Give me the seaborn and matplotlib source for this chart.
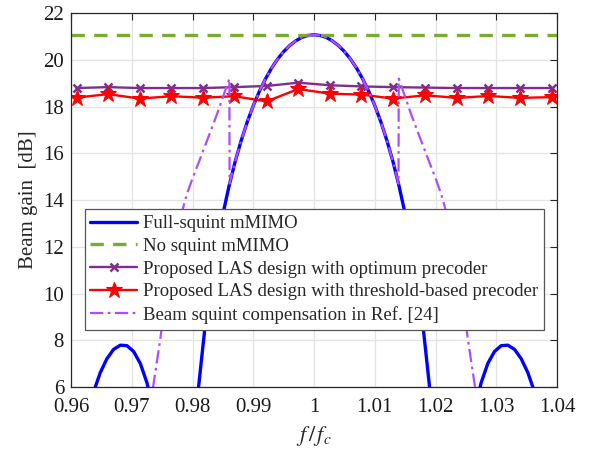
import numpy as np
import pandas as pd
import matplotlib
matplotlib.use("Agg")
import matplotlib.pyplot as plt
import seaborn as sns

# ---- data ----
# full-squint mMIMO (blue)
fs_x = [0.9626, 0.9637, 0.9648, 0.9659, 0.9670, 0.9681, 0.9692, 0.9703, 0.9714, 0.9725, 0.9736, 0.9758,
        0.980, 0.981, 0.982, 0.983, 0.984, 0.985, 0.986, 0.987, 0.988, 0.989, 0.990,
        0.991, 0.992, 0.993, 0.994, 0.995, 0.996, 0.997, 0.998, 0.999, 1.000,
        1.001, 1.002, 1.003, 1.004, 1.005, 1.006, 1.007, 1.008, 1.009, 1.010,
        1.011, 1.012, 1.013, 1.014, 1.015, 1.016, 1.017, 1.018, 1.019, 1.020,
        1.0242, 1.0264, 1.0275, 1.0286, 1.0297, 1.0308, 1.0319, 1.0330, 1.0341, 1.0352, 1.0363, 1.0374]
fs_y = [4.68, 5.78, 6.61, 7.21, 7.61, 7.79, 7.77, 7.52, 7.01, 6.18, 4.93, 0.10,
        2.83, 6.03, 8.45, 10.40, 12.02, 13.40, 14.59, 15.63, 16.54, 17.34, 18.04,
        18.65, 19.18, 19.64, 20.03, 20.35, 20.61, 20.81, 20.96, 21.04, 21.07,
        21.04, 20.96, 20.81, 20.61, 20.35, 20.03, 19.64, 19.18, 18.65, 18.04,
        17.34, 16.54, 15.63, 14.59, 13.40, 12.02, 10.40, 8.45, 6.03, 2.83,
        0.10, 4.93, 6.18, 7.01, 7.52, 7.77, 7.79, 7.61, 7.21, 6.61, 5.78, 4.68]

# no squint mMIMO (green dashed)
ns_x = [0.96, 1.04]
ns_y = [21.07, 21.07]

# proposed LAS designs (markers)
las_x = [0.9609, 0.9661, 0.9713, 0.9765, 0.9817, 0.9869, 0.9922, 0.9974,
         1.0026, 1.0078, 1.0130, 1.0183, 1.0235, 1.0287, 1.0339, 1.0391]
opt_y = [18.79, 18.83, 18.79, 18.79, 18.79, 18.83, 18.88, 19.02,
         18.91, 18.86, 18.83, 18.81, 18.79, 18.79, 18.79, 18.79]
thr_y = [18.38, 18.53, 18.34, 18.44, 18.38, 18.44, 18.22, 18.75,
         18.55, 18.51, 18.34, 18.48, 18.37, 18.45, 18.37, 18.40]

# beam squint compensation, Ref. [24] (dash-dot)
bs_x = [0.97296, 0.97356, 0.97466, 0.97536, 0.97606, 0.97706, 0.97806, 0.97906,
        0.98006, 0.98106, 0.98206, 0.98306, 0.98406, 0.98506, 0.98606, 0.98610,
        0.987, 0.988, 0.989, 0.990, 0.991, 0.992, 0.993, 0.994, 0.995, 0.996, 0.997,
        0.998, 0.999, 1.000, 1.001, 1.002, 1.003, 1.004, 1.005, 1.006, 1.007, 1.008,
        1.009, 1.010, 1.011, 1.012, 1.013,
        1.01390, 1.01394, 1.01494, 1.01594, 1.01694, 1.01794, 1.01894, 1.01994,
        1.02094, 1.02194, 1.02294, 1.02394, 1.02464, 1.02534, 1.02644, 1.02704]
bs_y = [4.9, 6.1, 8.0, 9.4, 10.6, 12.05, 13.30, 14.25,
        14.97, 15.64, 16.32, 17.0, 17.70, 18.45, 19.19, 14.70,
        15.63, 16.54, 17.34, 18.04, 18.65, 19.18, 19.64, 20.03, 20.35, 20.61, 20.81,
        20.96, 21.04, 21.07, 21.04, 20.96, 20.81, 20.61, 20.35, 20.03, 19.64, 19.18,
        18.65, 18.04, 17.34, 16.54, 15.63,
        14.70, 19.19, 18.45, 17.70, 17.0, 16.32, 15.64, 14.97,
        14.25, 13.30, 12.05, 10.6, 9.4, 8.0, 6.1, 4.9]

labels = ["Full-squint mMIMO", "No squint mMIMO",
          "Proposed LAS design with optimum precoder",
          "Proposed LAS design with threshold-based precoder",
          "Beam squint compensation in Ref. [24]"]

sns.set_theme(style="whitegrid")
plt.rcParams["font.family"] = ["Liberation Serif", "DejaVu Serif"]
plt.rcParams["mathtext.fontset"] = "stix"

fig = plt.figure(figsize=(5.92, 4.49), dpi=100)
ax = fig.add_axes([0.12, 0.138, 0.821, 0.833])

sns.lineplot(x=fs_x, y=fs_y, ax=ax, color="#0000FF", lw=2.4, linestyle="-",
             sort=False, estimator=None, label=labels[0])
sns.lineplot(x=ns_x, y=ns_y, ax=ax, color="#77AC30", lw=2.4, sort=False, estimator=None,
             label=labels[1], linestyle=(0, (4, 2.8)))
sns.lineplot(x=las_x, y=opt_y, ax=ax, color="#7E2F8E", lw=1.7, linestyle="-", marker="x",
             markersize=6, markeredgewidth=1.8, markeredgecolor="#7E2F8E",
             sort=False, estimator=None, label=labels[2])
sns.lineplot(x=las_x, y=thr_y, ax=ax, color="#FF0000", lw=1.7, linestyle="-", marker="*",
             markersize=12, markeredgecolor="#FF0000", sort=False, estimator=None, label=labels[3])
sns.lineplot(x=bs_x, y=bs_y, ax=ax, color="#B04CFF", lw=1.6, sort=False, estimator=None,
             label=labels[4], linestyle=(0, (6, 2, 1.2, 2)))

ax.set_xlim(0.96, 1.04)
ax.set_ylim(6, 22)
ax.set_xticks([0.96, 0.97, 0.98, 0.99, 1.0, 1.01, 1.02, 1.03, 1.04])
ax.set_xticklabels(["0.96", "0.97", "0.98", "0.99", "1", "1.01", "1.02", "1.03", "1.04"])
ax.set_yticks(range(6, 23, 2))
ax.set_facecolor("white")
ax.grid(True, color="#e3e3e3", lw=0.9)
for s in ax.spines.values():
    s.set_color("#262626")
    s.set_linewidth(0.9)
ax.tick_params(direction="in", top=True, right=True, length=5, width=0.8, color="#262626",
               labelsize=15, colors="#262626", labelcolor="#1a1a1a")
ax.tick_params(axis="x", pad=8)
ax.tick_params(axis="y", pad=5)
ax.set_xlabel("$f\\,/\\,f_c$", fontsize=16, labelpad=5)
ax.set_ylabel("Beam gain  [dB]", fontsize=15, labelpad=4)

leg = ax.legend(loc="upper left", bbox_to_anchor=(0.028, 0.475), borderaxespad=0, fontsize=13.5,
                frameon=True, fancybox=False, framealpha=1, edgecolor="#555555",
                handlelength=2.5, handletextpad=0.3, labelspacing=0.3, borderpad=0.3)
leg.get_frame().set_linewidth(0.9)

fig.savefig("out.png", dpi=100)
